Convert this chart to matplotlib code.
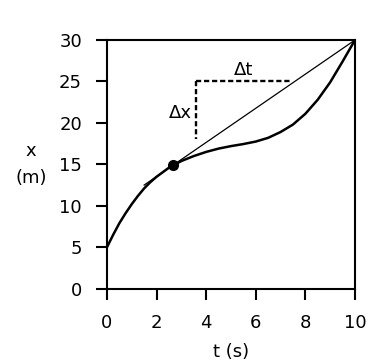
import matplotlib.pyplot as plt

# position curve
t = [0, 0.25, 0.5, 0.75, 1.0, 1.25, 1.5, 1.75, 2.0, 2.5, 3.0, 3.5, 4.0, 4.5, 5.0,
     5.5, 6.0, 6.5, 7.0, 7.5, 8.0, 8.5, 9.0, 9.5, 10.0]
x = [5.0, 6.5, 7.9, 9.1, 10.2, 11.2, 12.1, 12.85, 13.5, 14.6, 15.4, 16.0, 16.5, 16.9, 17.2,
     17.45, 17.75, 18.2, 18.9, 19.8, 21.1, 22.8, 24.9, 27.4, 30.0]

# secant line and marked point
secant_t = [1.5, 10.0]
secant_x = [12.5, 30.0]
point_t, point_x = 2.66, 14.9

# delta guides
dt_t = [3.6, 7.4]
dt_x = [25, 25]
dx_t = [3.6, 3.6]
dx_x = [25, 18]

fig = plt.figure(figsize=(3.78, 3.64), dpi=100)
ax = fig.add_axes([0.283, 0.207, 0.656, 0.683])

dash = (0, (2.2, 1.2))
ax.plot(t, x, color='black', lw=1.8)
ax.plot(secant_t, secant_x, color='black', lw=0.9)
ax.plot(point_t, point_x, 'o', color='black', ms=7)
ax.plot(dt_t, dt_x, color='black', lw=1.7, linestyle=dash)
ax.plot(dx_t, dx_x, color='black', lw=1.7, linestyle=dash)

ax.text(5.5, 26.4, 'Δt', fontsize=13, ha='center', va='center')
ax.text(2.95, 21.2, 'Δx', fontsize=13, ha='center', va='center')

ax.set_xlim(0, 10)
ax.set_ylim(0, 30)
ax.set_xticks([0, 2, 4, 6, 8, 10])
ax.set_yticks([0, 5, 10, 15, 20, 25, 30])
ax.tick_params(direction='out', length=8, width=1.5, pad=10, labelsize=13)
for s in ax.spines.values():
    s.set_linewidth(1.5)

ax.set_xlabel('t (s)', fontsize=13, labelpad=8)
ax.set_ylabel('x\n(m)', fontsize=13, rotation=0, labelpad=20, va='center',
              linespacing=1.6)

fig.savefig('out.png', dpi=100)
